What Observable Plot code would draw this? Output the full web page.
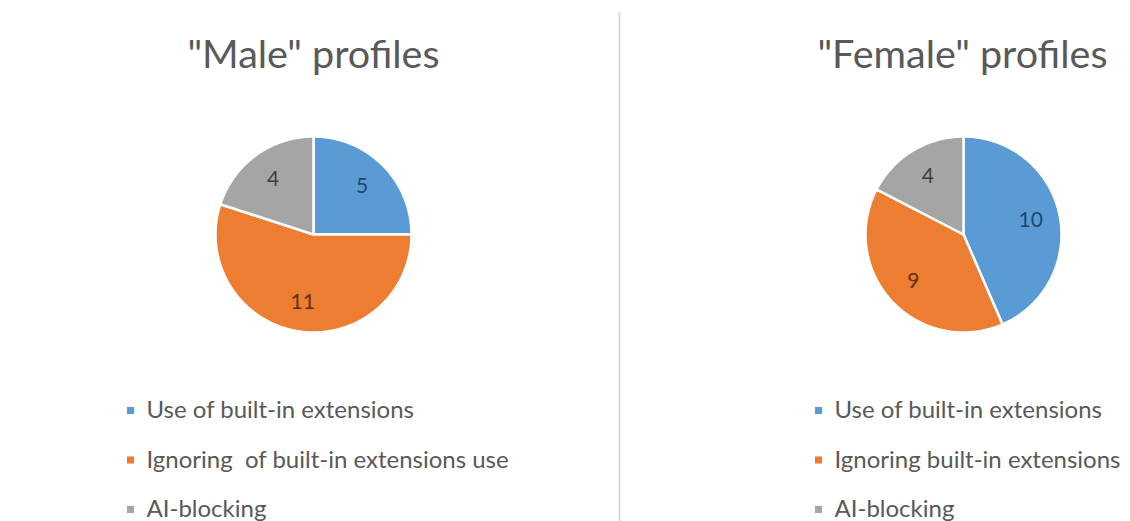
<!DOCTYPE html>
<html>
<head>
<meta charset="utf-8">
<script src="https://cdn.jsdelivr.net/npm/d3@7"></script>
<script src="https://cdn.jsdelivr.net/npm/@observablehq/plot@0.6"></script>
<style>
  html, body { margin: 0; padding: 0; background: #ffffff; }
  #chart svg text { white-space: pre; }
</style>
</head>
<body>
<div id="chart"></div>
<script>
// ---- Data ----
const titles = ['"Male" profiles', '"Female" profiles'];
const seriesKeys = ["use", "ignore", "block"];
const maleCategories = ["Use of built-in extensions", "Ignoring  of built-in extensions use", "AI-blocking"];
const maleValues = [5, 11, 4];
const femaleCategories = ["Use of built-in extensions", "Ignoring built-in extensions", "AI-blocking"];
const femaleValues = [10, 9, 4];

// ---- Styles / layout ----
const sliceColors = ["#5B9BD5", "#ED7D31", "#A5A5A5"];
const labelColors = ["#22466e", "#5e3110", "#3f3f3f"];
const W = 1130, H = 521;
const panels = [
  {cx: 313, cy: 234, r: 98, titleX: 313, legendX: 130, categories: maleCategories, values: maleValues, title: titles[0]},
  {cx: 963, cy: 234, r: 98, titleX: 962, legendX: 818, categories: femaleCategories, values: femaleValues, title: titles[1]}
];
const titleY = 67, legendY0 = 410, legendStep = 49.5;

// ---- Build geometry from data ----
const slicePts = [];
const labels = [];
const legendItems = [];
const titleRows = [];
panels.forEach((p, pi) => {
  const arcs = d3.pie().sort(null).startAngle(0).endAngle(2 * Math.PI)(p.values);
  arcs.forEach((a, i) => {
    const id = pi + "-" + i;
    slicePts.push({id, key: seriesKeys[i], x: p.cx, y: p.cy});
    const n = Math.max(2, Math.ceil((a.endAngle - a.startAngle) / (Math.PI / 180)));
    for (let k = 0; k <= n; k++) {
      const t = a.startAngle + (a.endAngle - a.startAngle) * k / n;
      slicePts.push({id, key: seriesKeys[i], x: p.cx + p.r * Math.sin(t), y: p.cy - p.r * Math.cos(t)});
    }
    slicePts.push({id, key: seriesKeys[i], x: p.cx, y: p.cy});
    const m = (a.startAngle + a.endAngle) / 2;
    labels.push({x: p.cx + 0.7 * p.r * Math.sin(m), y: p.cy - 0.7 * p.r * Math.cos(m), text: String(p.values[i]), color: labelColors[i]});
  });
  p.categories.forEach((c, i) => {
    legendItems.push({x: p.legendX, y: legendY0 + i * legendStep, key: seriesKeys[i], text: c});
  });
  titleRows.push({x: p.titleX, y: titleY, text: p.title});
});

const chart = Plot.plot({
  width: W,
  height: H,
  margin: 0,
  x: {domain: [0, W], range: [0, W], axis: null},
  y: {domain: [0, H], range: [0, H], axis: null},
  color: {domain: seriesKeys, range: sliceColors},
  style: {fontFamily: "Lato, 'Open Sans', sans-serif", background: "#ffffff"},
  marks: [
    Plot.ruleX([619], {y1: 12, y2: H, stroke: "#d4d4d4", strokeWidth: 1.5}),
    Plot.line(slicePts, {x: "x", y: "y", z: "id", fill: "key", stroke: "#ffffff", strokeWidth: 2.5, strokeLinejoin: "round", curve: "linear"}),
    Plot.text(labels, {x: "x", y: "y", text: "text", fill: "color", fontSize: 21}),
    Plot.text(titleRows, {x: "x", y: "y", text: "text", fill: "#595959", fontSize: 39.5, textAnchor: "middle", lineAnchor: "bottom"}),
    Plot.dot(legendItems, {x: "x", y: "y", fill: "key", symbol: "square", r: 4}),
    Plot.text(legendItems, {x: d => d.x + 16, y: "y", text: "text", fill: "#595959", fontSize: 24, textAnchor: "start"})
  ]
});
document.getElementById("chart").appendChild(chart);
</script>
</body>
</html>
